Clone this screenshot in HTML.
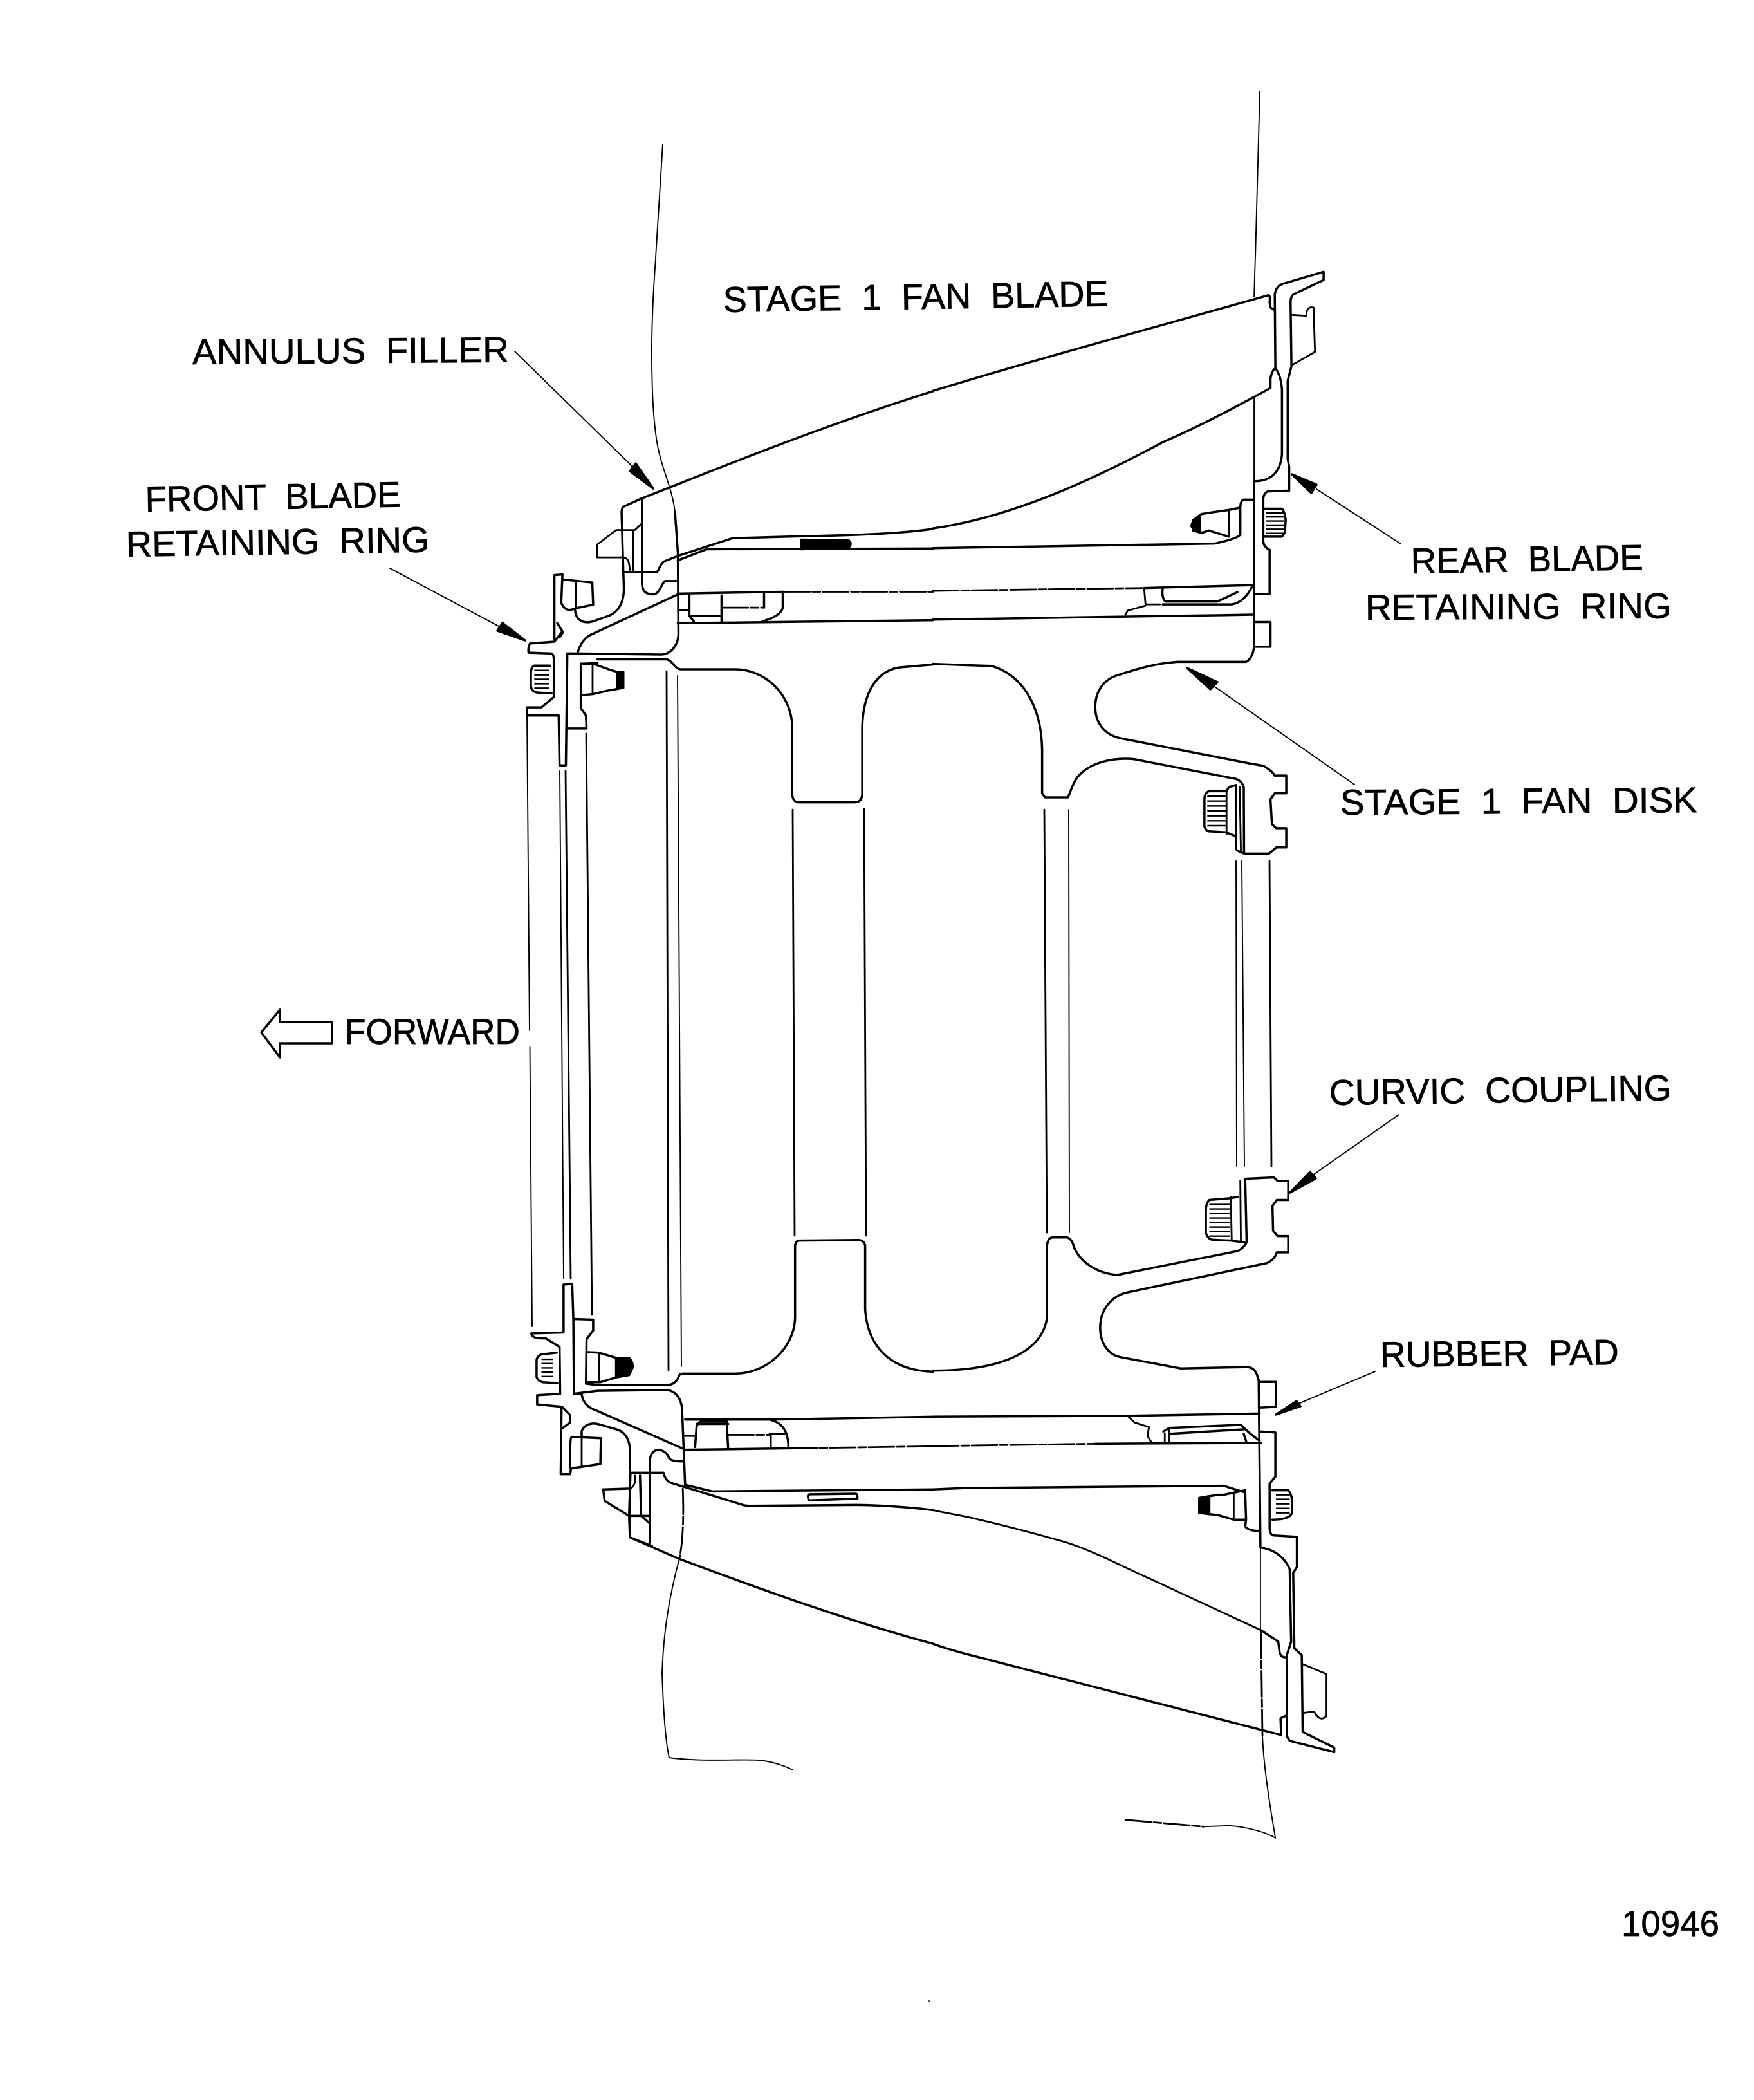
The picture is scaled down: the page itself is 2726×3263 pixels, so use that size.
<!DOCTYPE html>
<html><head><meta charset="utf-8"><style>
html,body{margin:0;padding:0;background:#fff}
svg{display:block}
path{vector-effect:non-scaling-stroke;fill:none;stroke:#000;stroke-linejoin:round;stroke-linecap:round}
.a path{stroke-width:3.5}
.a path.m{stroke-width:2.8}
.a path.t{stroke-width:1.9}
path.d{stroke-dasharray:40 4 12 4}
path.f{fill:#000}
.a path.s{stroke-width:2.4;stroke-linecap:butt}
text{font-family:"Liberation Sans",sans-serif;font-size:56px;fill:#000;stroke:#000;stroke-width:.7px;white-space:pre}
</style></head><body>
<svg xmlns="http://www.w3.org/2000/svg" width="2726" height="3263" viewBox="0 0 2726 3263">
<rect width="2726" height="3263" fill="#fff"/>

<g class="a">
<!-- long verticals, source coordinates -->
<path class="t" d="M819 1110L823 1601M823.500 1627L827 2061"/>
<path class="t" d="M870 1198L876 1987"/>
<path class="m" d="M879 1198L887 1987"/>
<path class="m" d="M911 1140L920 2043"/>
<path class="m" d="M1036 1043L1039 2129"/>
<path class="t" d="M1053 1050L1059 2123"/>
<path class="m" d="M1232 1258L1235 1920"/>
<path class="m" d="M1343 1257L1346 1920"/>
<path class="m" d="M1623 1258L1627 1915"/>
<path class="t" d="M1661 1258L1662 1915"/>
<path class="t" d="M1921 1338L1922 1812"/>
<path class="t" d="M1930 1338L1934 1812"/>
<path class="m" d="M1973 1338L1976 1812"/>
<!-- blade traces -->
<path class="t" d="M1030 224L1019 400"/>
<path class="t" d="M1958 142L1951 400"/>
<path class="t" d="M1029 2600C1031 2660 1034 2705 1040 2731C1090 2738 1150 2733 1180 2735C1200 2737 1220 2744 1232 2750"/>

<!-- leaders and arrowheads -->
<path class="t" d="M2177 845L2046 760"/><path class="f" d="M2008 737L2046 753L2038 766Z"/>
<path class="t" d="M2105 1219L1885 1065"/><path class="f" d="M1845 1038L1892 1060L1881 1071Z"/>
<path class="t" d="M800 546L984 726"/><path class="f" d="M1015 759L988 720L979 732Z"/>
<path class="t" d="M606 883L777 974"/><path class="f" d="M816 995L781 968L773 980Z"/>
<path class="t" d="M2174 1732L2040 1826"/><path class="f" d="M2005 1853L2036 1821L2045 1831Z"/>
<path class="t" d="M2137 2131L2018 2181"/><path class="f" d="M1983 2198L2015 2177L2021 2185Z"/>
<!-- forward arrow -->
<path d="M406 1604L435 1569L435 1588L516 1588L516 1621L435 1621L435 1643Z"/>

<!-- upper left -->
<g transform="translate(750,400) scale(.4464,.574)">
<path class="t" d="M603 0C595 80 590 160 589 240C589 340 592 420 605 490C620 570 660 620 670 690"/>
<path d="M1568 362C1250 440 950 530 660 620L555 652L490 675Q484 680 484 690L490 850L492 900C490 940 470 960 440 970L385 985C355 992 325 985 322 955"/>
<path d="M555 652L555 880C555 905 570 912 595 912C615 912 625 880 635 876L680 876"/>
<path class="m" d="M484 738L465 738L398 778L398 812L480 812C505 810 512 820 512 850"/>
<path class="m" d="M484 738L530 738L552 722M525 738L525 850"/>
<path d="M490 852L605 852C615 850 615 830 635 822L680 808L870 760L1100 755C1300 752 1450 748 1568 735"/>
<path d="M680 820L780 790L1568 788"/>
<path d="M670 690L680 800L682 1020C680 1055 650 1075 620 1075L330 1072"/>
<path d="M250 1035L250 860L278 858L274 935C285 955 300 958 322 950"/>
<path d="M282 872L382 880L385 940L322 950"/><path class="m" d="M325 875L325 950"/>
<path d="M260 990L280 1015L268 1028"/>
<path d="M250 1040L275 1015M250 1040L165 1045Q158 1055 160 1070L240 1072Q248 1075 248 1090L248 1190L205 1218L155 1218L155 1240L265 1240L268 1375L290 1375L295 1072L330 1072"/>
<path d="M295 1275L362 1275L360 1240L342 1220L342 1100L400 1098"/>
<path d="M400 1088L640 1088C660 1090 670 1115 690 1115L880 1115C980 1115 1075 1180 1078 1270L1078 1450C1078 1470 1090 1475 1100 1475L1295 1475C1315 1475 1322 1465 1322 1450L1322 1270C1325 1180 1370 1120 1450 1110L1568 1102"/>
<path d="M342 1100L385 1100L450 1118L470 1122L490 1122L490 1165L470 1168L440 1172L385 1182L342 1185"/>
<path class="m" d="M383 1100L383 1182"/><path class="f" d="M468 1122L490 1124L490 1165L468 1168Z"/>
<path d="M235 1105L180 1105Q168 1110 168 1125L168 1160Q170 1175 190 1178L240 1180"/>
<path class="s" d="M180 1118L232 1118M180 1130L232 1130M180 1142L232 1142M180 1154L232 1154M180 1166L232 1166"/>
<path d="M330 1072C340 1045 355 1030 375 1022L680 912"/>
<path d="M680 910L1050 905"/><path class="m d" d="M1050 905L1568 905"/>
<path d="M680 990L1568 982"/>
<path d="M720 915L720 970L735 985M832 915L832 985M720 970L830 970"/>
<path class="m d" d="M835 948L975 948"/>
<path d="M980 910L980 948M1045 910L1045 948Q1040 970 975 985"/>
<path class="m" d="M680 955L720 955"/>
<path class="f" d="M1110 764L1275 766Q1288 775 1275 785L1110 790Z"/>
</g>

<!-- upper right -->
<g transform="translate(1450,400) scale(.4464,.638)">
<path class="t" d="M1122 0L1118 95"/><path class="t" d="M1118 340L1118 545"/>
<path d="M0 325C400 240 800 165 1168 92Q1175 92 1172 110L1175 122L1188 128"/>
<path d="M1192 270L1190 90Q1195 70 1215 65L1360 35L1360 55L1255 90Q1245 95 1245 110L1248 265L1235 300L1235 490L1240 510L1240 568L1165 570Q1150 575 1150 590L1150 690Q1150 705 1172 712L1172 820L1120 820"/>
<path d="M1192 270Q1180 275 1175 295L1175 318C1000 385 900 420 800 450C600 525 300 630 0 660"/>
<path d="M1192 270Q1210 285 1215 320L1215 480C1210 520 1180 545 1120 545"/>
<path class="m" d="M1248 140L1300 142Q1300 118 1325 122L1330 230L1250 262"/>
<path d="M1118 545L1118 945"/>
<path d="M1118 590L1080 590Q1070 595 1070 610L1070 675Q1060 685 980 697L0 708"/>
<path d="M1065 610L1030 615L960 622L935 625Q900 640 900 655Q915 670 940 670L960 665L1030 680"/>
<path class="m" d="M1030 615L1030 680"/><path class="f" d="M905 640L930 628L930 670L905 665Z"/>
<path d="M1150 612L1215 612Q1225 620 1228 640L1225 670L1215 680L1150 680"/>
<path class="s" d="M1160 622L1222 622M1160 632L1222 632M1160 642L1222 642M1160 652L1222 652M1160 662L1222 662M1160 672L1222 672"/>
<path class="m d" d="M0 812L735 805"/><path d="M735 805L1115 798"/>
<path d="M0 882L1115 870"/>
<path d="M1120 888L1175 888L1175 948L1125 948"/>
<path d="M1118 945Q1115 975 1090 985L850 985C760 990 700 1005 640 1018C590 1030 565 1060 565 1095C565 1135 600 1165 660 1172L1100 1232L1150 1238Q1180 1250 1190 1262"/>
<path d="M1190 1262L1230 1262L1230 1305L1190 1305L1175 1320L1180 1380L1195 1390L1230 1390L1230 1437L1195 1437L1170 1452L1085 1452Q1055 1445 1055 1440"/>
<path d="M1083 1452L1082 1290Q1075 1275 1055 1270L700 1222C640 1218 560 1225 510 1260C490 1275 485 1290 470 1315L390 1315L380 1305L380 1200C378 1100 320 1020 205 995L0 990"/>
<path d="M1055 1285L1030 1290L1022 1300L960 1300Q945 1305 945 1320L945 1385Q950 1398 965 1398L1020 1400L1055 1410"/>
<path d="M1055 1285L1055 1440"/><path class="m" d="M1022 1300L1022 1405M1068 1290L1072 1445"/>
<path class="s" d="M955 1312L1020 1312M955 1324L1020 1324M955 1336L1020 1336M955 1348L1020 1348M955 1360L1020 1360M955 1372L1020 1372M955 1384L1020 1384"/>
<path d="M800 805Q795 830 810 838L990 838L1060 815"/>
<path class="m" d="M735 805L740 845L790 845"/>
<path d="M800 845L1040 845Q1085 840 1112 800"/>
<path class="m" d="M670 870L678 860L740 848"/>
</g>

<!-- lower left -->
<g transform="translate(750,1900) scale(.4464,.4464)">
<path d="M282 380L282 215L312 212L316 335L385 337L385 375L362 405L360 560"/>
<path d="M316 335L318 595L345 597"/>
<path d="M170 385L280 382"/>
<path d="M170 385Q170 405 220 402L268 432L270 595L190 600L190 632L275 640L272 875L305 875L308 855L410 840L412 750L310 745Q303 750 305 855"/>
<path class="m" d="M345 745L345 850"/>
<path d="M345 745L345 725C352 705 375 695 400 700L470 720C500 730 512 760 513 790L513 1095L590 1125"/>
<path d="M278 642L305 670L305 695L278 715"/>
<path d="M345 597C350 630 370 645 400 655L695 785"/>
<path d="M318 595L400 585L645 582C680 590 695 620 695 660L705 910"/>
<path d="M362 560L400 565L640 565C670 565 680 545 685 530Q690 525 700 525L880 525C985 525 1085 440 1088 330L1088 80Q1090 60 1105 62L1310 60Q1330 62 1332 80L1332 300C1340 430 1420 515 1568 518"/>
<path d="M362 450L405 452L465 470L510 470Q525 485 522 505L510 530L465 538L410 555L362 555M405 452L405 555"/>
<path class="f" d="M465 472L510 472Q523 485 520 505L508 528L465 536Z"/>
<path d="M258 452L205 458Q188 465 188 480L188 535Q190 550 210 555L260 558"/>
<path class="s" d="M205 475L245 475M205 490L245 490M205 505L245 505M205 520L245 520M205 535L245 535"/>
<path d="M583 1125L583 820Q590 790 615 790Q640 795 650 820Q660 832 700 830"/>
<path d="M515 870L630 870Q635 895 655 905L705 920L900 980Q910 985 930 985L1300 982C1400 983 1500 992 1568 1000"/>
<path d="M705 912L800 935L1568 928"/>
<path d="M515 925L420 928L425 968L510 1020L580 1020"/>
<path d="M515 870L510 1020L513 1095L685 1170C900 1250 1250 1380 1568 1465"/>
<path class="m" d="M530 880Q535 920 510 925"/>
<path d="M548 880L552 1020M580 1045L552 1020"/>
<path d="M1133 952Q1133 945 1140 945L1300 943Q1306 945 1305 960L1140 966Q1133 965 1133 952Z"/>
<path class="m d" d="M697 925C700 1000 700 1100 685 1170"/>
<path class="t" d="M685 1170C650 1300 630 1420 625 1568"/>
<path d="M705 685L1000 685C1040 695 1065 720 1065 785"/>
<path d="M1000 685L1568 675"/>
<path d="M705 790L1075 785"/><path class="m d" d="M1075 785L1568 778"/>
<path d="M740 780L745 710Q750 695 760 692L850 692L855 785M745 700L855 700"/>
<path class="m" d="M705 742L740 742"/><path class="m d" d="M855 738L1000 738"/>
<path d="M1003 738L1003 785M1000 735L1060 735"/>
</g>

<!-- lower right -->
<g transform="translate(1500,1800) scale(.4464,.7015)">
<path d="M285 360L285 195Q287 175 305 175L355 175Q372 178 378 195C400 230 460 255 530 258L950 205Q975 195 980 185L975 45L1075 42L1088 50L1125 50L1125 92L1085 92L1070 105L1072 160L1088 172L1125 172L1125 208L1085 208C1080 220 1065 228 1050 232L555 298C500 310 470 340 470 375C470 410 500 435 540 440L750 465L985 462Q1015 465 1020 490"/>
<path d="M285 350C275 420 150 470 -112 470"/>
<path d="M950 85L925 88L850 92Q838 100 838 115L838 165Q845 178 860 180L925 182L975 186"/>
<path class="m" d="M925 85L928 180M958 50L960 185"/>
<path class="s" d="M850 102L922 102M850 112L922 112M850 122L922 122M850 132L922 132M850 142L922 142M850 152L922 152M850 162L922 162M850 172L922 172"/>
<path d="M1025 495L1082 495L1082 550L1025 552"/>
<path d="M-112 572L560 570L1025 565"/>
<path class="m d" d="M-112 637L450 632"/><path d="M450 632L1030 630"/>
<path class="m" d="M565 570L590 585L640 595L635 615L650 630L695 630L695 610"/>
<path d="M690 605L710 597L960 590Q990 610 1025 625M710 600L710 630M710 610L970 600M970 610L980 630"/>
<path d="M1022 490L1028 860"/>
<path d="M1030 605L1080 607L1080 705L1060 720L1060 820Q1062 835 1075 835L1155 838L1155 905L1142 918L1146 1085L1172 1100L1175 1270L1190 1275L1285 1305L1285 1315L1130 1290L1120 1280L1120 1100L1135 1070L1130 910C1110 880 1070 865 1028 862"/>
<path class="t" d="M1028 862L1028 1050"/>
<path class="m d" d="M1030 1050L1035 1280"/>
<path class="t" d="M1035 1280C1040 1350 1060 1430 1080 1505"/>
<path class="m d" d="M558 1465L830 1480"/>
<path class="t" d="M830 1480L920 1478C970 1480 1040 1490 1080 1505"/>
<path class="m" d="M-112 779C-70 785 -30 789 0 793C120 810 240 830 350 850C450 870 550 905 640 930L1030 1045"/><path d="M1030 1045L1090 1070L1095 1095Q1100 1105 1115 1105"/>
<path d="M-112 1075C-70 1085 -35 1091 0 1097L1100 1277L1098 1240L1115 1235"/>
<path d="M-112 733L0 730L900 725L975 740L978 800L975 815Q985 825 1025 825"/>
<path d="M975 735L900 745L880 745L815 752L815 785L880 790L935 800L975 800"/>
<path class="m" d="M935 745L935 800"/><path class="f" d="M815 752L850 748L850 788L815 785Z"/>
<path d="M1070 735L1125 735Q1138 745 1138 760L1138 785Q1130 800 1070 800"/>
<path class="s" d="M1082 745L1130 745M1082 755L1130 755M1082 765L1130 765M1082 775L1130 775M1082 785L1130 785"/>
<path class="m" d="M1175 1120L1258 1142L1258 1235Q1235 1250 1215 1225L1180 1228"/>
</g>
</g>

<!-- labels -->
<text transform="translate(1124,485) rotate(-0.9)" textLength="599" lengthAdjust="spacingAndGlyphs">STAGE  1  FAN  BLADE</text>
<text transform="translate(299,566) rotate(-0.4)" textLength="492" lengthAdjust="spacingAndGlyphs">ANNULUS  FILLER</text>
<text transform="translate(226,795) rotate(-1.1)" textLength="397" lengthAdjust="spacingAndGlyphs">FRONT  BLADE</text>
<text transform="translate(196,865) rotate(-0.9)" textLength="472" lengthAdjust="spacingAndGlyphs">RETAINING  RING</text>
<text transform="translate(2193,891) rotate(-0.9)" textLength="361" lengthAdjust="spacingAndGlyphs">REAR  BLADE</text>
<text transform="translate(2122,963) rotate(-0.3)" textLength="476" lengthAdjust="spacingAndGlyphs">RETAINING  RING</text>
<text transform="translate(2083,1266) rotate(-0.4)" textLength="555" lengthAdjust="spacingAndGlyphs">STAGE  1  FAN  DISK</text>
<text x="536" y="1622" textLength="272" lengthAdjust="spacingAndGlyphs">FORWARD</text>
<text transform="translate(2066,1717) rotate(-0.8)" textLength="532" lengthAdjust="spacingAndGlyphs">CURVIC  COUPLING</text>
<text transform="translate(2145,2124) rotate(-0.6)" textLength="371" lengthAdjust="spacingAndGlyphs">RUBBER  PAD</text>
<text x="2520" y="3008" textLength="152" lengthAdjust="spacingAndGlyphs">10946</text>
<rect x="1442" y="3108" width="3" height="2" fill="#555"/>
</svg>
</body></html>
